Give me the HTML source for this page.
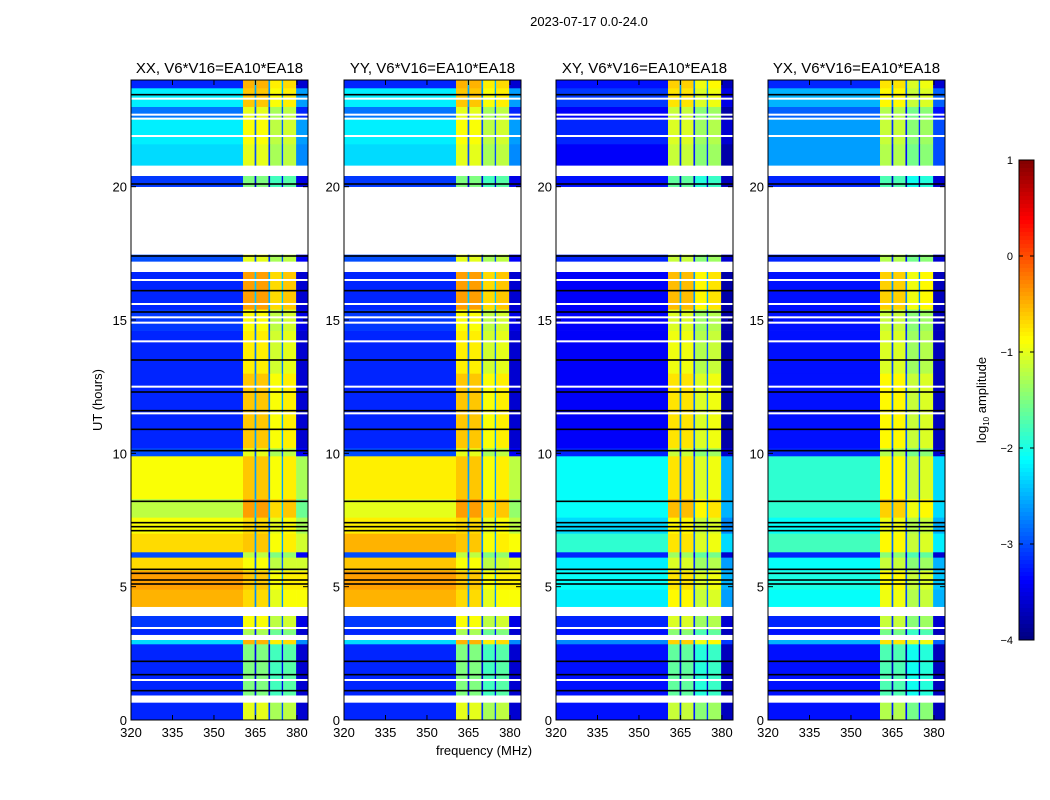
<!DOCTYPE html>
<html><head><meta charset="utf-8">
<style>
html,body{margin:0;padding:0;background:#fff;}
svg{display:block;font-family:"Liberation Sans","DejaVu Sans",sans-serif;}
</style></head>
<body>
<svg id="fig" width="1050" height="800" viewBox="0 0 1050 800" xmlns="http://www.w3.org/2000/svg">
<rect width="1050" height="800" fill="#fff"/>
<text x="589" y="26" font-size="13" text-anchor="middle">2023-07-17 0.0-24.0</text>
<text x="102" y="400" font-size="13" text-anchor="middle" transform="rotate(-90 102 400)">UT (hours)</text>
<text x="484" y="755" font-size="13" text-anchor="middle">frequency (MHz)</text>
<g id="panels"></g>
<g id="cbar"></g>
</svg>
<script>
// ---- data ----
const panelTitles = ["XX, V6*V16=EA10*EA18","YY, V6*V16=EA10*EA18","XY, V6*V16=EA10*EA18","YX, V6*V16=EA10*EA18"];
const bandStart = [0,0.65,0.93,2.85,3.0,3.2,3.4,3.9,4.25,4.9,5.6,6.1,6.3,7.0,7.6,8.3,9.9,10.2,13,14.6,15.4,16.8,17.2,17.45,20.0,20.4,20.8,21.6,22.6,23.0,23.7];
const bandEnd   = [0.65,0.93,2.85,3.0,3.2,3.4,3.9,4.25,4.9,5.6,6.1,6.3,7.0,7.6,8.3,9.9,10.2,13,14.6,15.4,16.8,17.2,17.45,20.0,20.4,20.8,21.6,22.6,23.0,23.7,24];
const contXX = [-3.2,null,-3.2,-2.3,null,-3.2,-3.1,null,-0.5,-0.4,-0.7,-3.0,-0.7,-0.9,-1.2,-0.9,-3.0,-3.2,-3.2,-3.1,-3.2,null,-3.0,null,-3.1,null,-2.3,-2.2,-2.8,-2.2,-3.2];
const contYY = [-3.2,null,-3.2,-2.3,null,-3.2,-3.1,null,-0.5,-0.4,-0.6,-3.0,-0.5,-0.8,-1.0,-0.8,-3.0,-3.2,-3.2,-3.1,-3.2,null,-3.0,null,-3.1,null,-2.3,-2.2,-2.8,-2.2,-3.2];
const contXY = [-3.3,null,-3.3,-2.7,null,-3.3,-3.2,null,-2.2,-2.1,-2.2,-3.2,-1.9,-2.3,-2.1,-2.1,-3.2,-3.4,-3.4,-3.4,-3.4,null,-3.2,null,-3.3,null,-3.4,-3.2,-3.4,-3.1,-3.3];
const contYX = [-3.3,null,-3.3,-2.5,null,-3.3,-3.2,null,-2.1,-2.0,-2.1,-3.2,-1.8,-2.1,-1.9,-1.9,-3.2,-3.3,-3.3,-3.3,-3.3,null,-3.2,null,-3.2,null,-2.6,-2.6,-2.9,-2.5,-3.2];
const rfiLevel = [-1.0,null,-1.5,-0.5,null,-1.3,-0.9,null,-0.7,-0.6,-0.9,-1.2,-0.6,-0.7,-0.4,-0.6,-1.0,-0.6,-0.8,-0.9,-0.4,null,-1.0,null,-1.5,null,-1.0,-0.9,-1.0,-0.6,-0.5];
const rfiOffset = [-0.3, -0.3, -0.45, -0.55];
const colStart = [320,360.5,364.7,365.3,369.7,370.3,374.5,375.0,379.7];
const colEnd   = [360.5,364.7,365.3,369.7,370.3,374.5,375.0,379.7,384];
const colKind  = ["c","r","r","r","r","r","r","r","c"];
const colMod   = [0,0.3,-1.7,0.3,-1.8,0.0,-1.7,0.1,-0.4];
const whiteLines = [1.5,3.45,11.5,12.5,14.2,14.9,15.1,15.6,16.5,21.9,22.55,22.7,23.3];
const blackLines = [1.1,1.7,2.2,5.1,5.25,5.5,5.65,7.1,7.25,7.4,8.2,10.1,10.9,11.6,12.3,13.5,15.3,16.1,17.4,20.1,23.45];
const yTicks = [0,5,10,15,20];
const xTicks = [320,335,350,365,380];
const cbTicks = [1,0,-1,-2,-3,-4];
const panelConts = [contXX,contYY,contXY,contYX];

// ---- layout ----
const panelX0 = [131,344,556,768], PW = 177, PY0 = 80, PH = 640;
const NS = "http://www.w3.org/2000/svg";
function mk(tag, attrs, parent){const e=document.createElementNS(NS,tag);for(const k in attrs)e.setAttribute(k,attrs[k]);parent.appendChild(e);return e;}
function jet(v){
  let t=(v+4)/5; t=Math.max(0,Math.min(1,t));
  const f=x=>Math.round(255*Math.max(0,Math.min(1,x)));
  const r=f(Math.min(4*t-1.5,-4*t+4.5)), g=f(Math.min(4*t-0.5,-4*t+3.5)), b=f(Math.min(4*t+0.5,-4*t+2.5));
  return `rgb(${r},${g},${b})`;
}
const yScale = h => PY0 + PH - h*PH/24;
const xScaleFor = x0 => f => x0 + (f-320)*PW/64;
const fmt = v => v<0 ? "\u2212"+Math.abs(v) : String(v);

const G = document.getElementById("panels");
panelTitles.forEach((title,p)=>{
  const x0 = panelX0[p], xs = xScaleFor(x0), cont = panelConts[p];
  const g = mk("g",{},G);
  
  
  for(let b=0;b<bandStart.length;b++){
    if(cont[b]===null) continue;
    const y1=yScale(bandEnd[b]), y2=yScale(bandStart[b]);
    for(let c=0;c<colStart.length;c++){
      const v = colKind[c]==="c" ? cont[b]+colMod[c] : rfiLevel[b]+rfiOffset[p]+colMod[c];
      const r = mk("rect",{x:xs(colStart[c]).toFixed(2),y:y1.toFixed(2),width:(xs(colEnd[c])-xs(colStart[c])+0.3).toFixed(2),height:(y2-y1+0.3).toFixed(2),fill:jet(v)},g);
      
      
    }
  }
  whiteLines.forEach(h=>{const l=mk("rect",{x:x0,y:yScale(h)-1,width:PW,height:2,fill:"#fff"},g);
    
    });
  blackLines.forEach(h=>{const l=mk("rect",{x:x0,y:yScale(h)-0.8,width:PW,height:1.6,fill:"#000"},g);
    
    });
  const fr = mk("rect",{x:x0,y:PY0,width:PW,height:PH,fill:"none",stroke:"#000","stroke-width":1},g);
  
  
  const t = mk("text",{x:x0+PW/2,y:73,"font-size":15,"text-anchor":"middle"},g); t.textContent=title;
  
  
  yTicks.forEach(v=>{const y=yScale(v);
    mk("line",{x1:x0,x2:x0+5,y1:y,y2:y,stroke:"#000"},g);
    mk("line",{x1:x0+PW-5,x2:x0+PW,y1:y,y2:y,stroke:"#000"},g);
    const tl=mk("text",{x:x0-4,y:y+5,"font-size":13,"text-anchor":"end"},g); tl.textContent=v;
    
    });
  xTicks.forEach(v=>{const x=xs(v);
    mk("line",{x1:x,x2:x,y1:PY0+PH,y2:PY0+PH-5,stroke:"#000"},g);
    mk("line",{x1:x,x2:x,y1:PY0,y2:PY0+5,stroke:"#000"},g);
    const tl=mk("text",{x:x,y:737,"font-size":13,"text-anchor":"middle"},g); tl.textContent=v;
    
    });
});

const CB = document.getElementById("cbar");
const cbX=1019, cbW=15, cbY0=160, cbH=480;
const cbScale = v => cbY0 + (1-v)*cbH/5;
for(let i=0;i<120;i++){
  const v1 = 1 - i*5/120, v2 = 1-(i+1)*5/120;
  mk("rect",{x:cbX,y:cbScale(v1),width:cbW,height:cbScale(v2)-cbScale(v1)+0.4,fill:jet((v1+v2)/2)},CB);
}
const cbf = mk("rect",{x:cbX,y:cbY0,width:cbW,height:cbH,fill:"none",stroke:"#000"},CB);


cbTicks.forEach(v=>{const y=cbScale(v);
  mk("line",{x1:cbX,x2:cbX+4,y1:y,y2:y,stroke:"#000"},CB);
  mk("line",{x1:cbX+cbW-4,x2:cbX+cbW,y1:y,y2:y,stroke:"#000"},CB);
  const tl=mk("text",{x:1013,y:y+4,"font-size":11,"text-anchor":"end"},CB); tl.textContent=fmt(v);
  
  });
const cl = mk("text",{x:986,y:400,"font-size":13,"text-anchor":"middle",transform:"rotate(-90 986 400)"},CB);
cl.innerHTML = 'log<tspan font-size="8" dy="3">10</tspan><tspan dy="-3"> amplitude</tspan>';


</script>
</body></html>
